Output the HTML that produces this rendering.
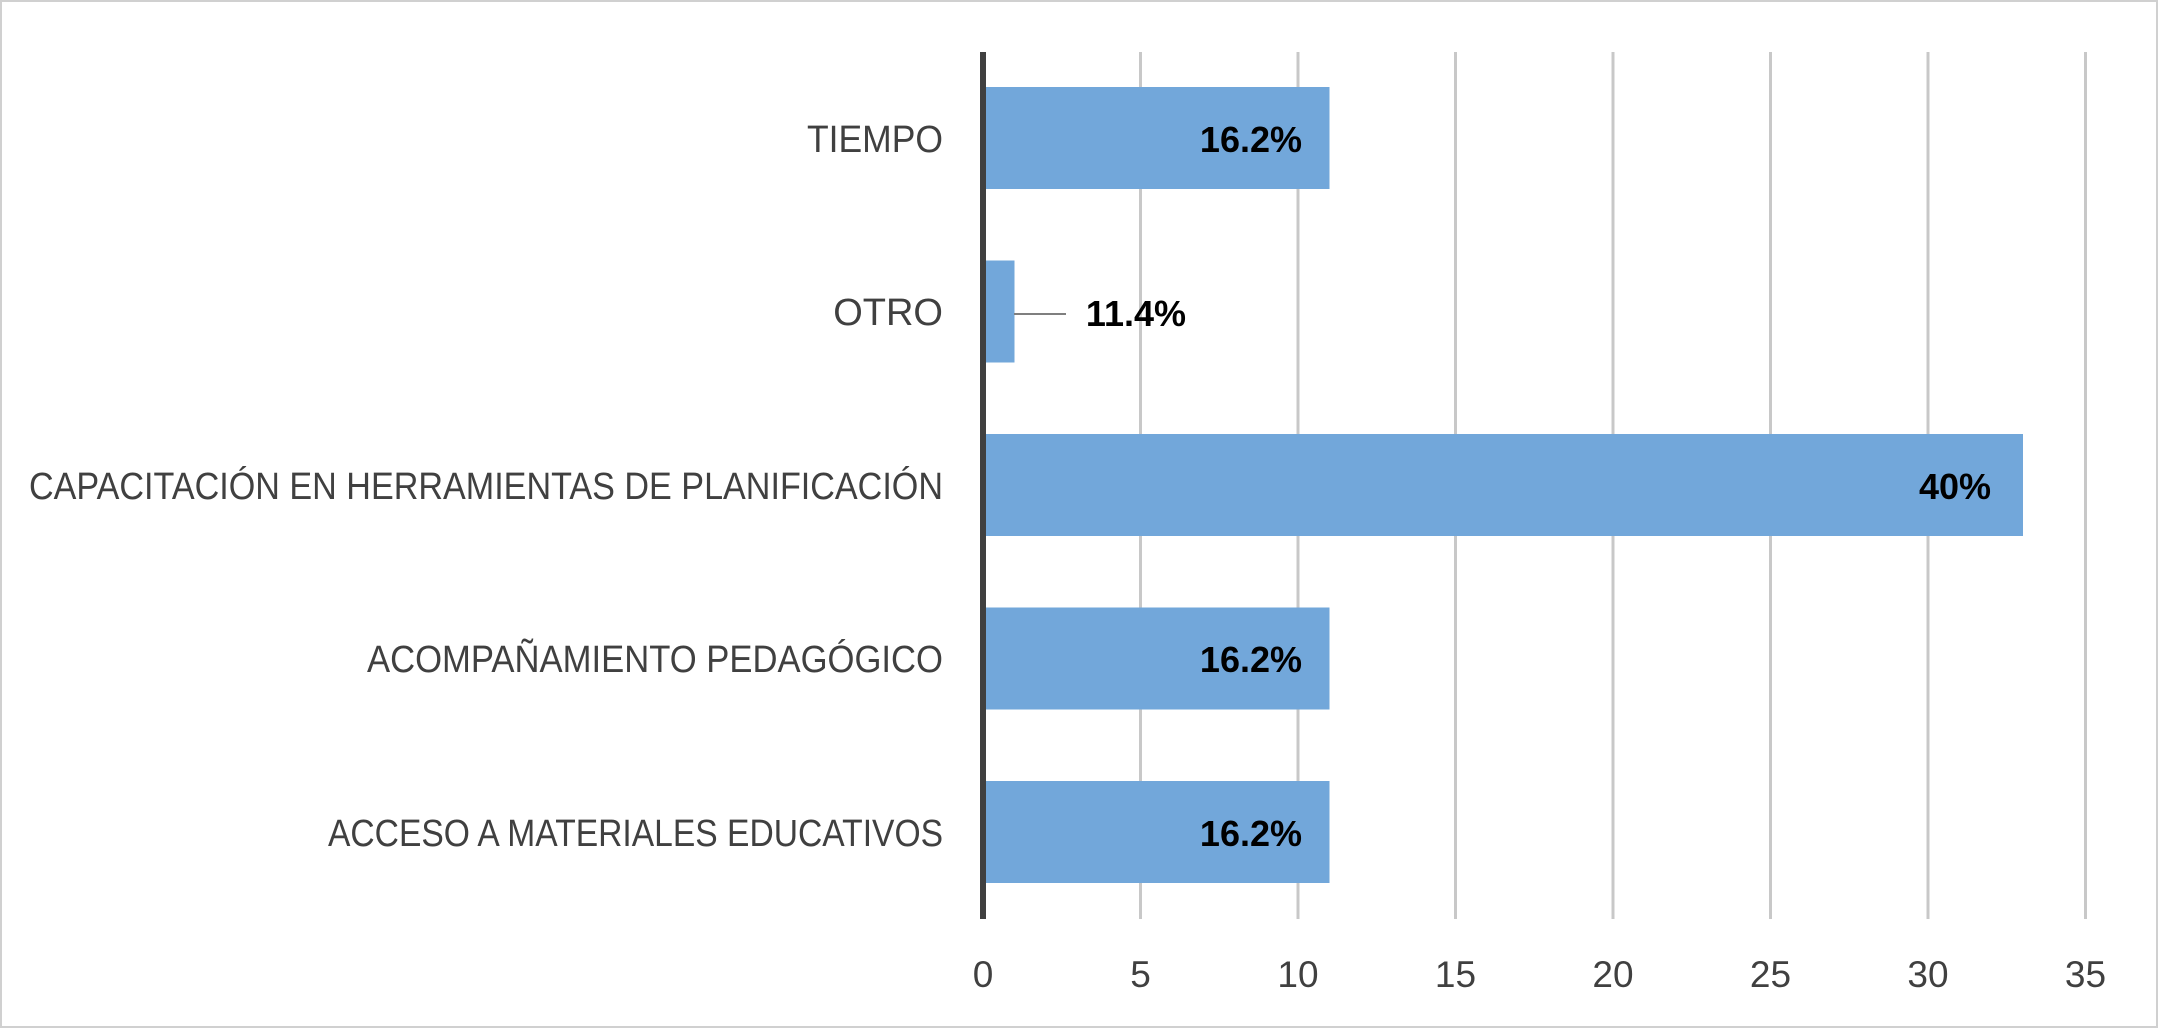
<!DOCTYPE html>
<html><head><meta charset="utf-8"><style>html,body{margin:0;padding:0;background:#fff}svg{display:block}</style></head>
<body>
<svg width="2158" height="1028" viewBox="0 0 2158 1028" xmlns="http://www.w3.org/2000/svg" font-family="'Liberation Sans', sans-serif">
<rect x="1" y="1" width="2156" height="1026" fill="#fff" stroke="#d0d0d0" stroke-width="2"/>
<g stroke="#c8c8c8" stroke-width="3">
<line x1="1140.5" y1="52" x2="1140.5" y2="919"/>
<line x1="1298" y1="52" x2="1298" y2="919"/>
<line x1="1455.5" y1="52" x2="1455.5" y2="919"/>
<line x1="1613" y1="52" x2="1613" y2="919"/>
<line x1="1770.5" y1="52" x2="1770.5" y2="919"/>
<line x1="1928" y1="52" x2="1928" y2="919"/>
<line x1="2085.5" y1="52" x2="2085.5" y2="919"/>
</g>
<g fill="#72a7da">
<rect x="983" y="87" width="346.5" height="102"/>
<rect x="983" y="260.5" width="31.5" height="102"/>
<rect x="983" y="434" width="1040" height="102"/>
<rect x="983" y="607.5" width="346.5" height="102"/>
<rect x="983" y="781" width="346.5" height="102"/>
</g>
<line x1="983" y1="52" x2="983" y2="919" stroke="#404040" stroke-width="6"/>
<line x1="1014" y1="314" x2="1066" y2="314" stroke="#7f7f7f" stroke-width="2"/>
<g fill="#404040" font-size="38" text-anchor="end">
<text x="943" y="152" textLength="136" lengthAdjust="spacingAndGlyphs">TIEMPO</text>
<text x="943" y="325">OTRO</text>
<text x="943" y="499" textLength="914" lengthAdjust="spacingAndGlyphs">CAPACITACIÓN EN HERRAMIENTAS DE PLANIFICACIÓN</text>
<text x="943" y="672" textLength="576" lengthAdjust="spacingAndGlyphs">ACOMPAÑAMIENTO PEDAGÓGICO</text>
<text x="943" y="846" textLength="615" lengthAdjust="spacingAndGlyphs">ACCESO A MATERIALES EDUCATIVOS</text>
</g>
<g fill="#000" font-size="36" font-weight="bold" text-anchor="end">
<text x="1302" y="152">16.2%</text>
<text x="1186" y="326">11.4%</text>
<text x="1991" y="499">40%</text>
<text x="1302" y="672">16.2%</text>
<text x="1302" y="846">16.2%</text>
</g>
<g fill="#404040" font-size="37" text-anchor="middle">
<text x="983" y="987">0</text>
<text x="1140.5" y="987">5</text>
<text x="1298" y="987">10</text>
<text x="1455.5" y="987">15</text>
<text x="1613" y="987">20</text>
<text x="1770.5" y="987">25</text>
<text x="1928" y="987">30</text>
<text x="2085.5" y="987">35</text>
</g>
</svg>
</body></html>
